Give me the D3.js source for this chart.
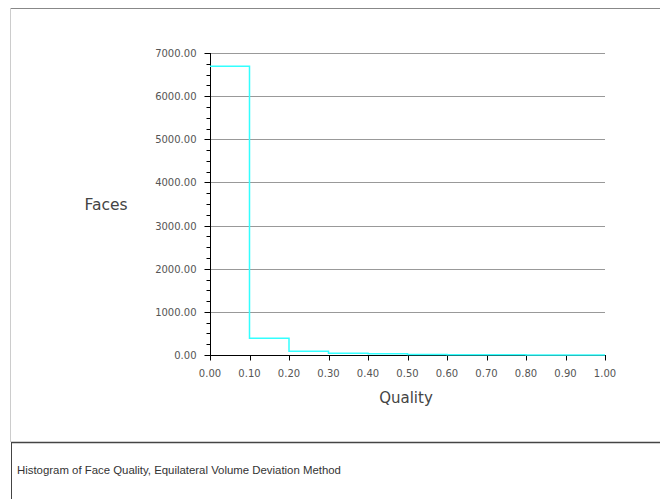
<!DOCTYPE html>
<html>
<head>
<meta charset="utf-8">
<script src="https://cdn.jsdelivr.net/npm/d3@7"></script>
<style>
    body { margin: 0; background: #fff; }
    svg text { font-family: "DejaVu Sans", sans-serif; }
    svg text.caption { font-family: "Liberation Sans", Arial, sans-serif; }
</style>
</head>
<body>
<svg id="chart" width="660" height="499"></svg>
<script>
// bin start edges and face counts per bin
const binStarts = [0.0, 0.1, 0.2, 0.3, 0.4, 0.5, 0.6, 0.7, 0.8, 0.9];
const faceCounts = [6690, 390, 85, 38, 30, 12, 8, 3, 2, 1];
const yTicks = [0, 1000, 2000, 3000, 4000, 5000, 6000, 7000];
const xTicks = [0, 0.1, 0.2, 0.3, 0.4, 0.5, 0.6, 0.7, 0.8, 0.9, 1.0];

const svg = d3.select('#chart');

const x = d3.scaleLinear().domain([0, 1]).range([210, 605]);
const y = d3.scaleLinear().domain([0, 7000]).range([355, 53]);

// outer frame
svg.append('line')
    .attr('x1', 10).attr('y1', 8.5).attr('x2', 660).attr('y2', 8.5)
    .attr('stroke', '#888').attr('stroke-width', 1);
svg.append('line')
    .attr('x1', 10.5).attr('y1', 8).attr('x2', 10.5).attr('y2', 442)
    .attr('stroke', '#ccc').attr('stroke-width', 1);

// caption box
svg.append('line')
    .attr('x1', 11).attr('y1', 442.5).attr('x2', 660).attr('y2', 442.5)
    .attr('stroke', '#444').attr('stroke-width', 1.5);
svg.append('line')
    .attr('x1', 11.5).attr('y1', 442).attr('x2', 11.5).attr('y2', 499)
    .attr('stroke', '#444').attr('stroke-width', 1);
svg.append('text')
    .attr('class', 'caption')
    .attr('x', 17).attr('y', 474)
    .attr('font-size', '11.4px')
    .attr('fill', '#333')
    .text('Histogram of Face Quality, Equilateral Volume Deviation Method');

// gridlines
svg.append('g')
    .selectAll('line')
    .data(yTicks.filter(d => d > 0))
    .enter()
    .append('line')
    .attr('x1', x(0)).attr('x2', x(1))
    .attr('y1', d => Math.round(y(d)) + 0.5)
    .attr('y2', d => Math.round(y(d)) + 0.5)
    .attr('stroke', '#999')
    .attr('stroke-width', 1);

// y axis with minor ticks
const yAxis = svg.append('g').attr('transform', 'translate(210.5,0)');
yAxis.append('line')
    .attr('x1', 0).attr('x2', 0).attr('y1', y(7000)).attr('y2', y(0) + 1)
    .attr('stroke', '#000');
yAxis.selectAll('.minor')
    .data(d3.range(0, 7000, 250).filter(d => d % 1000 !== 0))
    .enter()
    .append('line')
    .attr('x1', -4).attr('x2', 0)
    .attr('y1', d => Math.round(y(d)) + 0.5)
    .attr('y2', d => Math.round(y(d)) + 0.5)
    .attr('stroke', '#000');
yAxis.selectAll('.major')
    .data(yTicks)
    .enter()
    .append('line')
    .attr('x1', -6).attr('x2', 0)
    .attr('y1', d => Math.round(y(d)) + 0.5)
    .attr('y2', d => Math.round(y(d)) + 0.5)
    .attr('stroke', '#000');
yAxis.selectAll('text')
    .data(yTicks)
    .enter()
    .append('text')
    .attr('x', -14)
    .attr('y', d => y(d) + 4)
    .attr('text-anchor', 'end')
    .attr('font-size', '10px')
    .attr('fill', '#555')
    .text(d => d.toFixed(2));

// x axis
const xAxis = svg.append('g').attr('transform', 'translate(0,355.5)');
xAxis.append('line')
    .attr('x1', x(0)).attr('x2', x(1) + 1).attr('y1', 0).attr('y2', 0)
    .attr('stroke', '#000');
xAxis.selectAll('.tick')
    .data(xTicks)
    .enter()
    .append('line')
    .attr('x1', d => Math.round(x(d)) + 0.5)
    .attr('x2', d => Math.round(x(d)) + 0.5)
    .attr('y1', 0).attr('y2', 5)
    .attr('stroke', '#000');
xAxis.selectAll('text')
    .data(xTicks)
    .enter()
    .append('text')
    .attr('x', d => x(d))
    .attr('y', 21.5)
    .attr('text-anchor', 'middle')
    .attr('font-size', '10px')
    .attr('fill', '#555')
    .text(d => d.toFixed(2));

// axis titles
svg.append('text')
    .attr('x', 406).attr('y', 403)
    .attr('text-anchor', 'middle')
    .attr('font-size', '15px')
    .attr('fill', '#444')
    .text('Quality');
svg.append('text')
    .attr('x', 106).attr('y', 210)
    .attr('text-anchor', 'middle')
    .attr('font-size', '15.5px')
    .attr('fill', '#444')
    .text('Faces');

// step histogram outline
const points = binStarts.map((b, i) => [b, faceCounts[i]]);
points.push([1.0, faceCounts[faceCounts.length - 1]]);

const line = d3.line()
    .x(d => x(d[0]))
    .y(d => y(d[1]))
    .curve(d3.curveStepAfter);

svg.append('path')
    .datum(points)
    .attr('d', line)
    .attr('fill', 'none')
    .attr('stroke', '#33ffff')
    .attr('stroke-width', 1.5);
</script>
</body>
</html>
